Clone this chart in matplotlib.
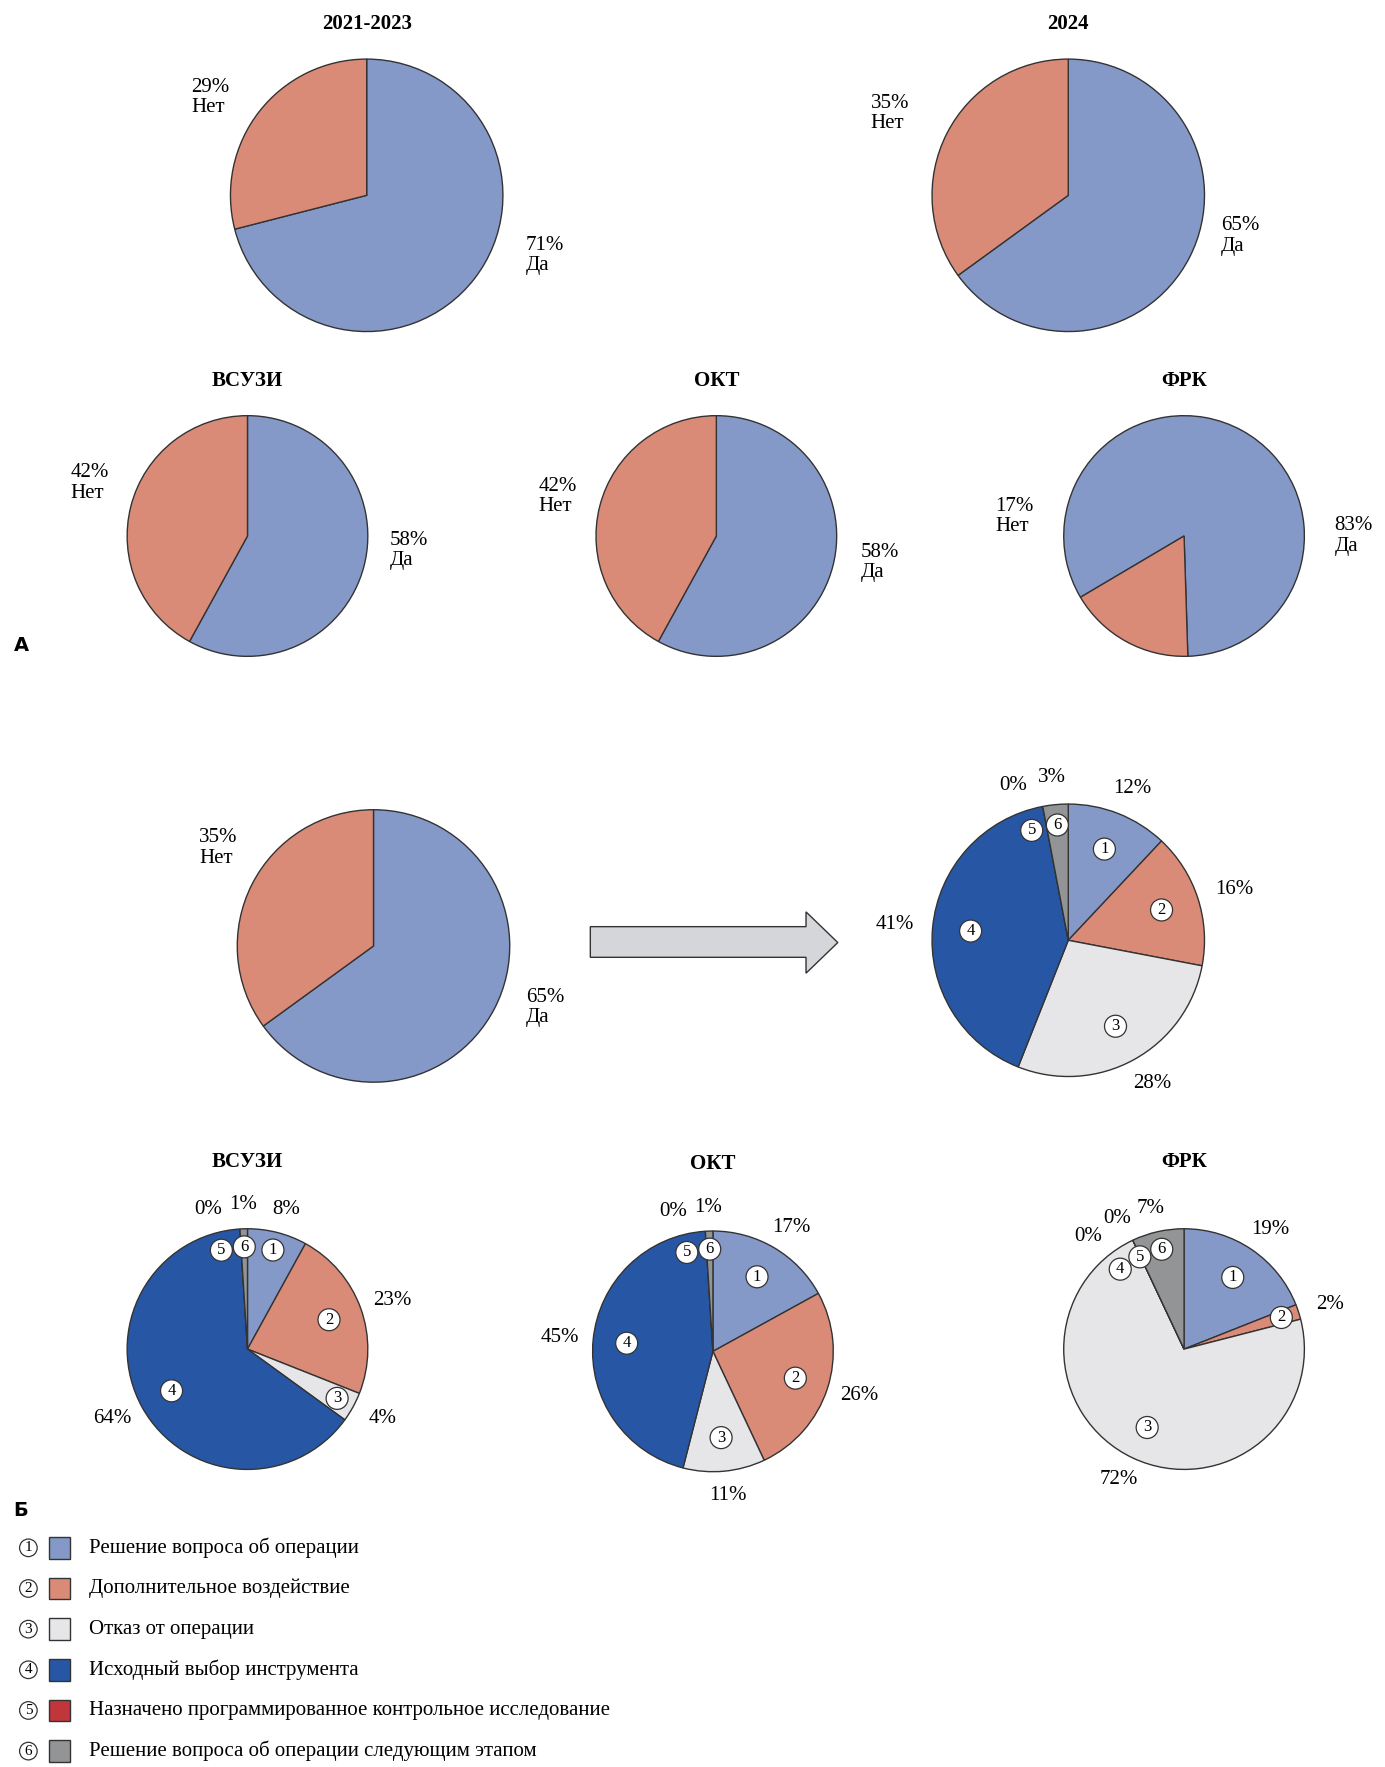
import math
import matplotlib
matplotlib.use("Agg")
import matplotlib.pyplot as plt
from matplotlib.patches import Polygon, Rectangle

plt.rcParams['font.family'] = ['Liberation Serif', 'DejaVu Serif']

# ---- data ----
YESNO_LABELS = ["Да", "Нет"]
yes_2123 = [71, 29]
yes_2024 = [65, 35]
yes_ivus = [58, 42]
yes_oct = [58, 42]
yes_ffr = [83, 17]
yes_big = [65, 35]

CAT_NAMES = ["Решение вопроса об операции", "Дополнительное воздействие",
             "Отказ от операции", "Исходный выбор инструмента",
             "Назначено программированное контрольное исследование",
             "Решение вопроса об операции следующим этапом"]
res_all = [12, 16, 28, 41, 0, 3]
res_ivus = [8, 23, 4, 64, 0, 1]
res_oct = [17, 26, 11, 45, 0, 1]
res_ffr = [19, 2, 72, 0, 0, 7]

COLORS = ["#8599C8", "#D98B78", "#E6E6E9", "#2757A4", "#C0363A", "#929496"]
EDGE = "#333333"

# layout units: reference drawn at 1220 x 1556
W, H = 1220.0, 1556.0
fig = plt.figure(figsize=(13.85, 17.67), dpi=100)
over = fig.add_axes([0, 0, 1, 1])
over.set_xlim(0, W)
over.set_ylim(H, 0)
over.axis("off")
FS = 15


def pie_ax(cx, cy, r):
    ax = fig.add_axes([(cx - r) / W, 1 - (cy + r) / H, 2 * r / W, 2 * r / H])
    ax.set_xlim(-1, 1)
    ax.set_ylim(-1, 1)
    ax.set_aspect("equal")
    ax.axis("off")
    return ax


def spread(angles, sizes, sep):
    out = list(angles)
    for i in range(len(out) - 2, -1, -1):
        if sizes[i] < 10 and out[i] < out[i + 1] + sep:
            out[i] = out[i + 1] + sep
    return out


def draw_yesno(cx, cy, r, vals, pos_yes, pos_no, title=None, start=90):
    ax = pie_ax(cx, cy, r)
    ax.pie(vals, colors=COLORS[:2], startangle=start, counterclock=False,
           radius=1, wedgeprops=dict(edgecolor=EDGE, linewidth=1))
    ax.set_xlim(-1, 1)
    ax.set_ylim(-1, 1)
    for v, lab, (px, py) in zip(vals, YESNO_LABELS, [pos_yes, pos_no]):
        ax.text(px, py, f"{v}%\n{lab}", ha="left", va="center",
                multialignment="left", fontsize=FS, linespacing=1.1,
                clip_on=False)
    if title:
        over.text(cx, cy - r - 22, title, ha="center", va="bottom",
                  fontsize=FS, fontweight="bold")


def draw_multi(cx, cy, r, vals, title=None):
    ax = pie_ax(cx, cy, r)
    plot_vals = [v if v > 0 else 1e-9 for v in vals]
    ax.pie(plot_vals, colors=COLORS, startangle=90, counterclock=False,
           radius=1, wedgeprops=dict(edgecolor=EDGE, linewidth=1))
    ax.set_xlim(-1, 1)
    ax.set_ylim(-1, 1)
    mids = []
    start = 90
    for v in vals:
        mids.append(start - v * 3.6 / 2)
        start -= v * 3.6
    num_ang = spread(mids, vals, 13)
    pct_ang = spread(mids, vals, 13)
    for i, v in enumerate(vals):
        a = math.radians(num_ang[i])
        rr = 0.72 if v >= 10 else 0.85
        ax.text(rr * math.cos(a), rr * math.sin(a), str(i + 1), ha="center",
                va="center", fontsize=12, clip_on=False, zorder=5,
                bbox=dict(boxstyle="circle,pad=0.18", fc="white", ec=EDGE, lw=0.9))
        a = math.radians(pct_ang[i])
        ax.text(1.28 * math.cos(a), 1.2 * math.sin(a), f"{v}%", ha="center",
                va="center", fontsize=FS, clip_on=False)
    if title:
        over.text(cx, cy - r - 50, title, ha="center", va="bottom",
                  fontsize=FS, fontweight="bold")


# panel A
draw_yesno(323, 172, 120, yes_2123, (1.17, -0.44), (-1.29, 0.72), "2021-2023")
draw_yesno(941, 172, 120, yes_2024, (1.12, -0.3), (-1.45, 0.6), "2024")
draw_yesno(218, 472, 106, yes_ivus, (1.18, -0.12), (-1.47, 0.44), "ВСУЗИ")
draw_yesno(631, 472, 106, yes_oct, (1.2, -0.22), (-1.48, 0.33), "ОКТ")
draw_yesno(1043, 472, 106, yes_ffr, (1.25, 0.0), (-1.57, 0.16), "ФРК",
           start=180 + yes_ffr[1] * 3.6 / 2)
over.text(12, 568, "А", fontsize=14, fontweight="bold", family="DejaVu Sans",
          va="center")

# panel B
draw_yesno(329, 833, 120, yes_big, (1.12, -0.45), (-1.28, 0.72))
over.add_patch(Polygon([(520, 816), (710, 816), (710, 803), (738, 830),
                        (710, 857), (710, 843), (520, 843)],
                       closed=True, fc="#D4D6D9", ec=EDGE, lw=1))
draw_multi(941, 828, 120, res_all)
draw_multi(218, 1188, 106, res_ivus, "ВСУЗИ")
draw_multi(628, 1190, 106, res_oct, "ОКТ")
draw_multi(1043, 1188, 106, res_ffr, "ФРК")
over.text(12, 1330, "Б", fontsize=14, fontweight="bold", family="DejaVu Sans",
          va="center")

# legend
for i, name in enumerate(CAT_NAMES):
    y = 1363 + i * 35.8
    over.text(25, y, str(i + 1), ha="center", va="center", fontsize=11,
              bbox=dict(boxstyle="circle,pad=0.15", fc="white", ec=EDGE, lw=0.9))
    over.add_patch(Rectangle((43, y - 9.5), 19, 19, fc=COLORS[i], ec=EDGE, lw=1))
    over.text(78, y, name, ha="left", va="center", fontsize=FS)

fig.savefig("out.png", dpi=100)
